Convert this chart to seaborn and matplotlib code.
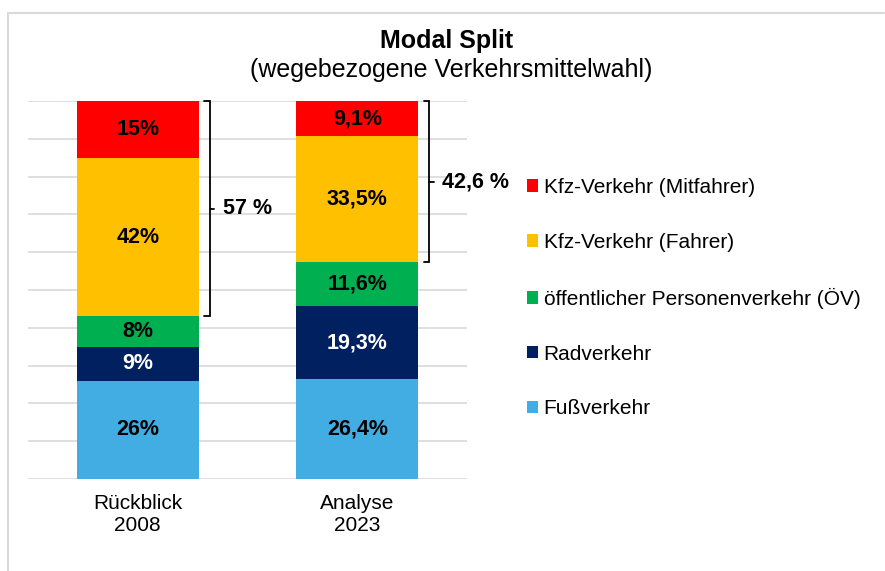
import numpy as np
import pandas as pd
import matplotlib
matplotlib.use('Agg')
import matplotlib.pyplot as plt
from matplotlib.patches import Patch
from matplotlib.lines import Line2D
import seaborn as sns

# Daten (Anteile in %)
jahre = ["Rückblick\n2008", "Analyse\n2023"]
modi = ["Fußverkehr", "Radverkehr", "öffentlicher Personenverkehr (ÖV)",
        "Kfz-Verkehr (Fahrer)", "Kfz-Verkehr (Mitfahrer)"]
fuss = [26, 26.4]
rad = [9, 19.3]
oev = [8, 11.6]
kfz_fahrer = [42, 33.5]
kfz_mitfahrer = [15, 9.1]
dezimalen = [0, 1]

farben = ["#41ade3", "#002060", "#00b050", "#ffc000", "#ff0000"]
textfarben = ["black", "white", "black", "black", "black"]


def fmt(v, d, sep=""):
    return f"{v:.{d}f}{sep}%".replace(".", ",")


werte = np.array([fuss, rad, oev, kfz_fahrer, kfz_mitfahrer], dtype=float)
kum = werte.cumsum(axis=0)
rows = []
for i, m in enumerate(modi):
    for j, jahr in enumerate(jahre):
        rows.append({"modus": m, "jahr": jahr, "wert": werte[i, j],
                     "oben": kum[i, j], "unten": kum[i, j] - werte[i, j]})
df = pd.DataFrame(rows)

sns.set_theme(style="white")
plt.rcParams["font.family"] = ["Liberation Sans", "DejaVu Sans"]
plt.rcParams["text.color"] = "black"
plt.rcParams["xtick.color"] = "black"

fig = plt.figure(figsize=(8.85, 5.71), dpi=100)
ax = fig.add_axes([28 / 885, 1 - 479 / 571, (467 - 28) / 885, (479 - 101) / 571])

breite = 0.555
# gestapelte Balken: kumulierte Werte von oben nach unten übereinander zeichnen
for i in range(len(modi) - 1, -1, -1):
    sub = df[df["modus"] == modi[i]]
    sns.barplot(data=sub, x="jahr", y="oben", order=jahre, color=farben[i],
                saturation=1, width=breite, errorbar=None, linewidth=0, ax=ax)

for _, r in df.iterrows():
    i = modi.index(r["modus"])
    j = jahre.index(r["jahr"])
    ax.text(j, r["unten"] + r["wert"] / 2, fmt(r["wert"], dezimalen[j]),
            ha="center", va="center", fontsize=15.5, fontweight="bold",
            color=textfarben[i])

# Klammern für Kfz-Verkehr
for j in range(len(jahre)):
    lo = kum[2, j]
    hi = kum[4, j]
    x0 = j + breite / 2 + 0.025
    x1 = j + breite / 2 + 0.05
    ax.plot([x0, x1, x1, x0], [hi, hi, lo, lo], color="black", lw=1.3,
            solid_joinstyle="miter", clip_on=False)
    mid = (lo + hi) / 2
    ax.plot([x1, x1 + 0.022], [mid, mid], color="black", lw=1.3, clip_on=False)
    ax.text(x1 + 0.06, mid, fmt(kfz_fahrer[j] + kfz_mitfahrer[j], dezimalen[j], " "),
            ha="left", va="center", fontsize=15.5, fontweight="bold")

ax.set_ylim(0, 100)
ax.set_xlim(-0.5, len(jahre) - 0.5)
ax.set_yticks(np.arange(0, 101, 10))
ax.yaxis.grid(True, color="#d9d9d9", lw=1.2)
ax.set_axisbelow(True)
ax.tick_params(axis="y", length=0, labelleft=False)
ax.tick_params(axis="x", length=0, pad=11, labelsize=15)
for lbl in ax.get_xticklabels():
    lbl.set_linespacing(1.15)
ax.set_xlabel("")
ax.set_ylabel("")
for s in ax.spines.values():
    s.set_visible(False)

handles = [Patch(facecolor=farben[i], edgecolor="none", label=modi[i])
           for i in range(len(modi) - 1, -1, -1)]
ax.legend(handles=handles, loc="upper left",
          bbox_to_anchor=(527 / 885, 1 - 178 / 571), bbox_transform=fig.transFigure,
          frameon=False, fontsize=15, handlelength=0.55, handleheight=0.55,
          handletextpad=0.25, labelspacing=1.72, borderpad=0, borderaxespad=0)

fig.text(447 / 885, 1 - 41 / 571, "Modal Split", ha="center", va="center",
         fontsize=18, fontweight="bold")
fig.text(451 / 885, 1 - 70 / 571, "(wegebezogene Verkehrsmittelwahl)",
         ha="center", va="center", fontsize=18)

# Rahmen oben und links
fig.add_artist(Line2D([8 / 885, 884 / 885], [1 - 12.5 / 571] * 2, color="#d9d9d9", lw=1.5))
fig.add_artist(Line2D([8 / 885] * 2, [0, 1 - 12.5 / 571], color="#d9d9d9", lw=1.5))

fig.savefig("out.png", dpi=100)
